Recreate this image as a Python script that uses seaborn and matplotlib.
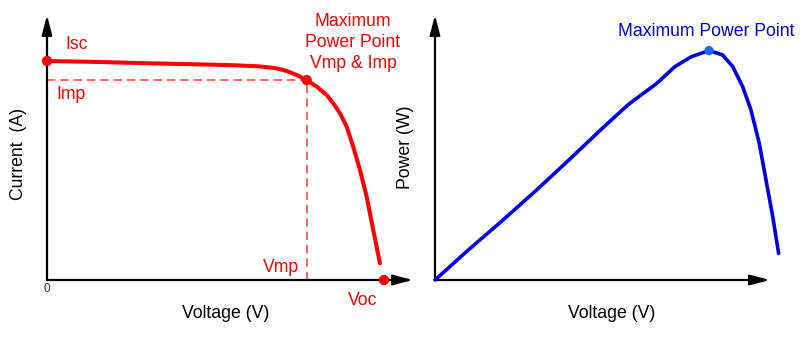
import matplotlib
matplotlib.use("Agg")
import matplotlib.pyplot as plt
import seaborn as sns
import pandas as pd

# ---- data (arbitrary units) ----
iv_voltage = [0, 3.31, 6.44, 9.56, 11.64, 13.31, 14.36, 14.98, 15.61, 16.23, 16.86,
              17.48, 17.89, 18.31, 18.73, 19.14, 19.56, 19.98, 20.39, 20.81]
iv_current = [5.475, 5.45, 5.4175, 5.39, 5.37, 5.34, 5.29, 5.225, 5.125, 5.0, 4.8325,
              4.625, 4.4175, 4.1675, 3.8325, 3.3325, 2.75, 2.0825, 1.25, 0.4175]

pv_voltage = [0, 2.08, 4.17, 6.25, 8.33, 10.42, 12.08, 13.86, 15.0, 16.04, 17.13,
              17.98, 18.61, 19.23, 19.75, 20.27, 20.69, 21.11, 21.48]
pv_power = [0, 10.5, 20.6, 31.0, 41.8, 52.9, 61.4, 68.8, 74.7, 78.2, 80.3,
            78.75, 74.7, 67.7, 59.5, 47.8, 35.0, 22.2, 9.3]

Isc = 5.475
Vmp = 16.23
Imp = 5.0
Voc = 21.06
Pmax_v = 17.13
Pmax_p = 80.3

sns.set_style("white")
plt.rcParams['font.family'] = ['Liberation Sans', 'DejaVu Sans']

W, H = 812, 341
fig = plt.figure(figsize=(W / 100, H / 100), dpi=100)

def fx(px):
    return px / W

def fy(py):
    return 1 - py / H

RED = "#ff0000"
BLUE = "#0000e6"
FS = 12.7

axL = fig.add_axes([fx(47), fy(280), fx(413) - fx(47), fy(15) - fy(280)])
axR = fig.add_axes([fx(435), fy(280), fx(770) - fx(435), fy(15) - fy(280)])

for ax in (axL, axR):
    ax.set_facecolor("none")
    for s in ax.spines.values():
        s.set_visible(False)
    ax.set_xticks([])
    ax.set_yticks([])
    arrow = dict(arrowstyle="-|>,head_length=0.85,head_width=0.22", color="black",
                 lw=1.6, mutation_scale=14, shrinkA=0, shrinkB=0)
    ax.annotate("", xy=(1, 0), xytext=(0, 0), xycoords="axes fraction", arrowprops=arrow)
    ax.annotate("", xy=(0, 1), xytext=(0, 0), xycoords="axes fraction", arrowprops=arrow)

# ---- left: I-V curve ----
axL.set_xlim(0, 22.875)
axL.set_ylim(0, 6.625)

df_iv = pd.DataFrame({"Voltage": iv_voltage, "Current": iv_current})
axL.hlines(Imp, 0, Vmp, colors="#ff4a4a", linestyles=(0, (5, 3)), lw=1.2, zorder=2)
axL.vlines(Vmp, 0, Imp, colors="#ff4a4a", linestyles=(0, (5, 3)), lw=1.2, zorder=2)
sns.lineplot(data=df_iv, x="Voltage", y="Current", ax=axL, color=RED, lw=2.9,
             sort=False, estimator=None, zorder=3)
pts = pd.DataFrame({"v": [0, Vmp, Voc], "i": [Isc, Imp, 0]})
sns.scatterplot(data=pts, x="v", y="i", ax=axL, color=RED, s=55, edgecolor="none",
                zorder=5)
for a in axL.collections:
    a.set_clip_on(False)
for l in axL.lines:
    l.set_clip_on(False)
axL.set_xlabel("")
axL.set_ylabel("")

# ---- right: P-V curve ----
axR.set_xlim(0, 20.94)
axR.set_ylim(0, 92.75)
df_pv = pd.DataFrame({"Voltage": pv_voltage, "Power": pv_power})
sns.lineplot(data=df_pv, x="Voltage", y="Power", ax=axR, color=BLUE, lw=2.6,
             sort=False, estimator=None, zorder=3)
sns.scatterplot(x=[Pmax_v], y=[Pmax_p], ax=axR, color="#1a6cff", s=45,
                edgecolor="none", zorder=5)
for a in axR.collections:
    a.set_clip_on(False)
for l in axR.lines:
    l.set_clip_on(False)
axR.set_xlabel("")
axR.set_ylabel("")

# ---- texts ----
def t(px, py, s, **kw):
    kw.setdefault("fontsize", FS)
    fig.text(fx(px), fy(py), s, **kw)

t(353, 26, "Maximum", color=RED, ha="center", va="baseline")
t(353, 47, "Power Point", color=RED, ha="center", va="baseline")
t(353, 68, "Vmp & Imp", color=RED, ha="center", va="baseline")
t(65, 49, "Isc", color=RED, ha="left", va="baseline")
t(56, 99, "Imp", color=RED, ha="left", va="baseline")
t(299, 272, "Vmp", color=RED, ha="right", va="baseline")
t(363, 305, "Voc", color=RED, ha="center", va="baseline")
t(47, 289, "0", color="#333333", ha="center", va="center", fontsize=8.5)
t(225.5, 318, "Voltage (V)", color="black", ha="center", va="baseline")
t(612, 318, "Voltage (V)", color="black", ha="center", va="baseline")
t(23, 154, "Current  (A)", color="black", ha="center", va="baseline", rotation=90,
  rotation_mode="anchor")
t(410, 147, "Power (W)", color="black", ha="center", va="baseline", rotation=90,
  rotation_mode="anchor")
t(706.7, 36, "Maximum Power Point", color=BLUE, ha="center", va="baseline")

fig.savefig("out.png", dpi=100)
